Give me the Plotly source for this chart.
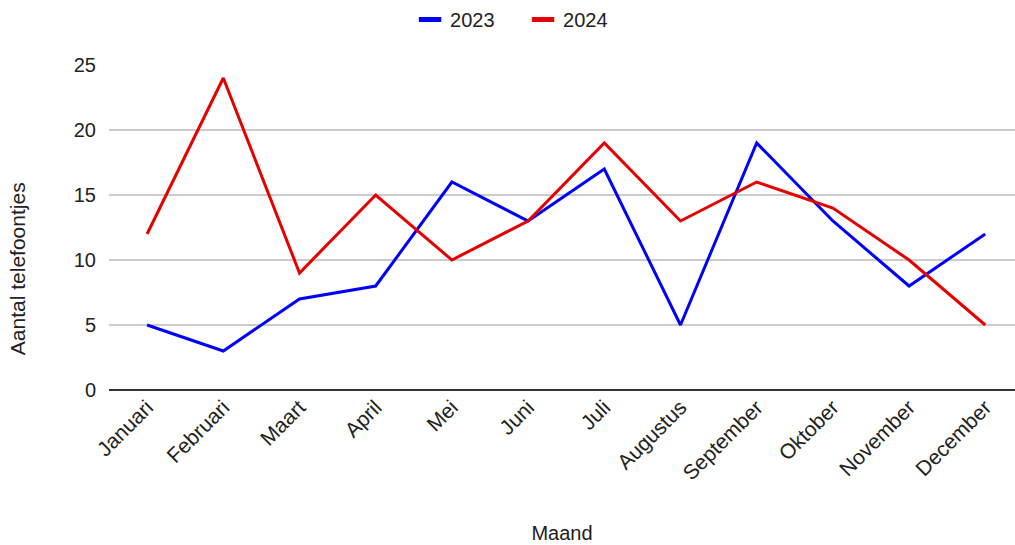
import plotly.graph_objects as go

# Maandelijkse aantallen telefoontjes
maanden = ["Januari", "Februari", "Maart", "April", "Mei", "Juni", "Juli",
           "Augustus", "September", "Oktober", "November", "December"]
waarden_2023 = [5, 3, 7, 8, 16, 13, 17, 5, 19, 13, 8, 12]
waarden_2024 = [12, 24, 9, 15, 10, 13, 19, 13, 16, 14, 10, 5]

y_ticks = [0, 5, 10, 15, 20, 25]

BLAUW = "#0000ff"
ROOD = "#e60000"
TEKST = "#222222"
FONT = "Liberation Sans, Arial, sans-serif"

fig = go.Figure()

fig.add_trace(go.Scatter(x=maanden, y=waarden_2023, mode="lines", name="2023",
                         line=dict(color=BLAUW, width=3), showlegend=False))
fig.add_trace(go.Scatter(x=maanden, y=waarden_2024, mode="lines", name="2024",
                         line=dict(color=ROOD, width=3), showlegend=False))

# Legenda-items als korte, dikke balkjes
for naam, kleur in (("2023", BLAUW), ("2024", ROOD)):
    fig.add_trace(go.Scatter(x=[None], y=[None], mode="markers", name=naam,
                             marker=dict(symbol="line-ew", size=16,
                                         line=dict(color=kleur, width=8))))

fig.update_layout(
    width=1015, height=545,
    margin=dict(l=109, r=0, t=65, b=155),
    paper_bgcolor="white", plot_bgcolor="white",
    font=dict(family=FONT, size=20, color=TEKST),
    legend=dict(orientation="h", x=0.457, xanchor="center", y=1.0, yanchor="top",
                yref="container", font=dict(size=20, color=TEKST),
                itemwidth=30, entrywidth=68, traceorder="normal"),
    xaxis=dict(
        type="category", range=[-0.5, 11.39], tickangle=-45,
        showgrid=False, zeroline=False, showline=False,
        ticks="", tickfont=dict(size=21, color=TEKST),
        title=dict(text="Maand", font=dict(size=20, color=TEKST), standoff=42),
    ),
    yaxis=dict(
        range=[0, 25], tickvals=y_ticks, showgrid=True, gridcolor="#cccccc",
        gridwidth=1.5, zeroline=True, zerolinecolor="#333333", zerolinewidth=2,
        showline=False, ticks="", ticklabelstandoff=12,
        tickfont=dict(size=20, color=TEKST),
    ),
    annotations=[dict(
        text="Aantal telefoontjes", textangle=-90, showarrow=False,
        xref="paper", yref="paper", x=-0.1015, y=0.372,
        xanchor="center", yanchor="middle",
        font=dict(size=21, color=TEKST),
    )],
)

fig.write_html("out.html")
